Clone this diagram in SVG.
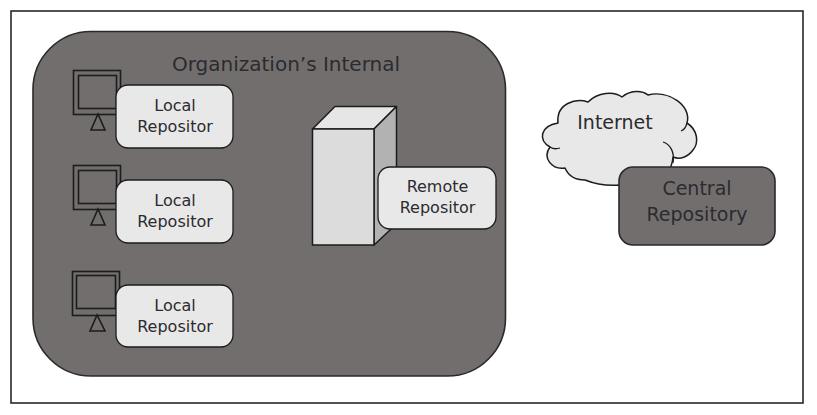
<svg xmlns="http://www.w3.org/2000/svg" width="817" height="415" viewBox="0 0 817 415">
<style>
text{font-family:"DejaVu Sans","Liberation Sans",sans-serif;text-anchor:middle;fill:#2b2b2e}
.l{font-size:16px}
.box{fill:#e9e8e9;stroke:#1c1c1c;stroke-width:1.3}
.mon{fill:none;stroke:#1c1c1c;stroke-width:1.6}
.dark{fill:#736e6e;stroke:#2a2a2a;stroke-width:1.6}
</style>
<rect width="817" height="415" fill="#fff"/>
<rect x="11" y="11" width="792" height="392" fill="#fff" stroke="#1a1a1a" stroke-width="1.5"/>
<g id="org">
<rect class="dark" x="33" y="31.500" width="472.500" height="344.500" rx="58" ry="58"/>
<text x="286" y="71" style="font-size:20px">Organization’s Internal</text>
</g>
<g id="local1">
<rect class="mon" x="73.500" y="70.500" width="47" height="44"/>
<rect class="mon" x="78.500" y="75.500" width="38" height="33"/>
<path class="mon" d="M98 114L91 130H105Z"/>
<rect class="box" x="116" y="85" width="117" height="63" rx="12"/>
<text class="l" x="175" y="111">Local</text>
<text class="l" x="175" y="132">Repositor</text>
</g>
<g id="local2">
<rect class="mon" x="73.500" y="165.500" width="47" height="44"/>
<rect class="mon" x="78.500" y="170.500" width="38" height="33"/>
<path class="mon" d="M98 209L91 225H105Z"/>
<rect class="box" x="116" y="180" width="117" height="63" rx="12"/>
<text class="l" x="175" y="206">Local</text>
<text class="l" x="175" y="227">Repositor</text>
</g>
<g id="local3">
<rect class="mon" x="72.500" y="271.500" width="47" height="44"/>
<rect class="mon" x="76.500" y="275.500" width="39" height="33"/>
<path class="mon" d="M97 315L90 331H105Z"/>
<rect class="box" x="116" y="285" width="117" height="62" rx="12"/>
<text class="l" x="175" y="311">Local</text>
<text class="l" x="175" y="332">Repositor</text>
</g>
<g id="remote">
<path d="M312.500 129L335 106.500H396.500L374 129Z" fill="#e6e6e6" stroke="#1c1c1c" stroke-width="1.5" stroke-linejoin="round"/>
<path d="M374 129L396.500 106.500V224L374 245Z" fill="#b2b2b2" stroke="#1c1c1c" stroke-width="1.5" stroke-linejoin="round"/>
<rect x="312.500" y="129" width="61.500" height="116" fill="#dcdcdc" stroke="#1c1c1c" stroke-width="1.5"/>
<rect class="box" x="378" y="167" width="118" height="62" rx="12"/>
<text class="l" x="437.500" y="192">Remote</text>
<text class="l" x="437.500" y="213">Repositor</text>
</g>
<g id="internet">
<path d="M558 123C556 103 576 98 588 102C598 92 614 91 622 97C630 90 642 90 648 95C668 90 692 105 687 123C698 130 699 143 693 150C688 157 680 160 673 157C672 170 664 178 655 182L640 192C632 192 626 190 620 185C608 186 595 184 585 180C575 180 568 175 565 168C552 170 542 158 550 147C538 140 540 126 558 123Z" fill="#e9e8e9" stroke="#1c1c1c" stroke-width="1.5" stroke-linejoin="round"/>
<path d="M663 142C670 144 675 152 673 163M550 147C553 149 557 149 560 148M687 123C686 127 684 130 681 131" fill="none" stroke="#1c1c1c" stroke-width="1.3"/>
<text x="615" y="129" style="font-size:19px">Internet</text>
</g>
<g id="central">
<rect class="dark" x="619" y="167" width="156" height="78" rx="14"/>
<text x="697" y="195" style="font-size:19px">Central</text>
<text x="697" y="221" style="font-size:19px">Repository</text>
</g>
<g id="connectors"></g>
</svg>
